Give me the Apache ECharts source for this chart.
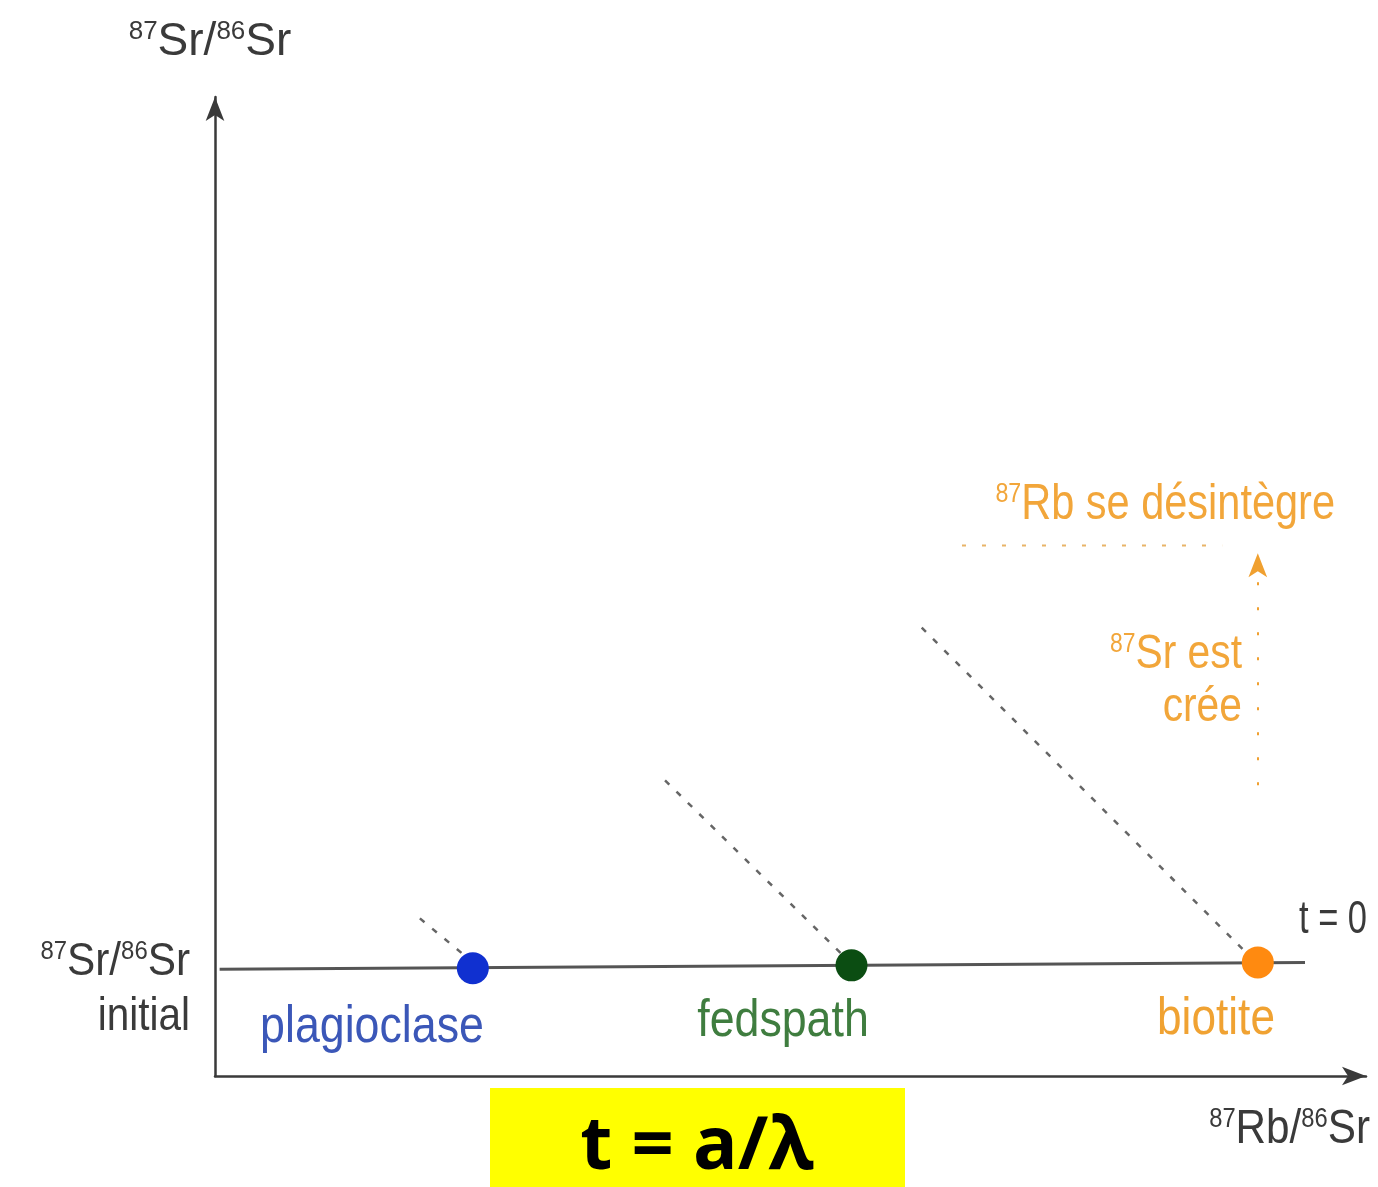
<!DOCTYPE html>
<html><head><meta charset="utf-8">
<script src="https://cdn.jsdelivr.net/npm/echarts@6/dist/echarts.min.js"></script>
<style>html,body{margin:0;padding:0;background:#fff}#c{width:1378px;height:1187px}</style>
</head><body><div id="c"></div>
<script>
// Minerals on the t = 0 line (x = 87Rb/86Sr, y = 87Sr/86Sr), schematic units
const minerals = ['plagioclase', 'fedspath', 'biotite'];
const mineralX = [22.4, 55.3, 90.6];
const mineralY = [11.0, 11.3, 11.6];
const mineralColors = ['#1030d0', '#0b4d12', '#ff8a10'];
// t = 0 line ends
const isoLine = [[0.4, 10.9], [94.7, 11.6]];
// dotted evolution paths [start, end]
const paths = [
  [[17.8, 16.1], [21.8, 12.2]],
  [[39.1, 30.2], [54.5, 12.4]],
  [[61.4, 45.8], [89.5, 12.7]]
];
// orange decay guide
const decayLevel = [[64.9, 54.2], [87.5, 54.2]];
const decayArrow = [[90.6, 29.7], [90.6, 53.4]];

const chart = echarts.init(document.getElementById('c'));
const axisCol = '#3a3a3a';
const FF = 'Liberation Sans, Arial, sans-serif';

function txt(x, y, text, o) {
  o = o || {};
  const fs = o.fs || 46;
  return {
    type: 'text', x: x, y: y, scaleX: o.sx || 1, z: 10,
    style: {
      text: text, fill: o.color || axisCol, font: (o.weight || 'normal') + ' ' + fs + 'px ' + (o.family || FF),
      textAlign: o.align || 'center', textVerticalAlign: 'middle',
      rich: {
        n: {fontSize: fs, lineHeight: fs, fill: o.color || axisCol, fontFamily: o.family || FF},
        s: {fontSize: Math.round(fs * 0.56), lineHeight: Math.round(fs * 0.56), verticalAlign: 'top', fill: o.color || axisCol, fontFamily: o.family || FF}
      }
    }
  };
}

const series = [];
series.push({
  type: 'line', data: isoLine, symbol: 'none', silent: true,
  lineStyle: {color: '#555', width: 3}, z: 2
});
paths.forEach(p => series.push({
  type: 'line', data: p, symbol: 'none', silent: true,
  lineStyle: {color: '#666', width: 2.5, type: [6, 10]}, z: 1
}));
series.push({
  type: 'line', data: decayLevel, symbol: 'none', silent: true,
  lineStyle: {color: '#e8b468', width: 2, type: [4, 16]}, z: 1,
  markLine: {
    silent: true, symbol: ['none', 'arrow'], symbolSize: [14, 24], label: {show: false},
    lineStyle: {color: '#f0a030', width: 2, type: [3, 22]},
    data: [[{coord: decayArrow[0]}, {coord: decayArrow[1]}]]
  }
});
series.push({
  type: 'scatter', symbolSize: 32, z: 5, silent: true,
  data: minerals.map((m, i) => ({name: m, value: [mineralX[i], mineralY[i]], itemStyle: {color: mineralColors[i], opacity: 1}}))
});

const ax = {
  type: 'value', min: 0, max: 100,
  axisLine: {show: true, symbol: ['none', 'arrow'], symbolSize: [14, 24], lineStyle: {color: axisCol, width: 2.5}},
  axisTick: {show: false}, axisLabel: {show: false}, splitLine: {show: false}
};

chart.setOption({
  animation: false,
  grid: {left: 215, top: 97, right: 12, bottom: 111},
  xAxis: Object.assign({}, ax),
  yAxis: Object.assign({}, ax),
  series: series,
  graphic: [
    txt(210, 42, '{s|87}{n|Sr/}{s|86}{n|Sr}', {fs: 46}),
    txt(190, 962, '{s|87}{n|Sr/}{s|86}{n|Sr}', {fs: 46, align: 'right', sx: 0.92}),
    txt(190, 1017, 'initial', {fs: 46, align: 'right', sx: 0.88}),
    txt(372, 1028, 'plagioclase', {fs: 52, color: '#3b57b8', sx: 0.86}),
    txt(783, 1022, 'fedspath', {fs: 52, color: '#3f7d3f', sx: 0.86}),
    txt(1216, 1020, 'biotite', {fs: 52, color: '#f0a232', sx: 0.85}),
    txt(1333, 920, 't = 0', {fs: 46, sx: 0.75}),
    txt(1335, 505, '{s|87}{n|Rb se désintègre}', {fs: 50, color: '#f2a63a', align: 'right', sx: 0.83}),
    txt(1242, 655, '{s|87}{n|Sr est}', {fs: 48, color: '#f2a63a', align: 'right', sx: 0.85}),
    txt(1242, 708, 'crée', {fs: 48, color: '#f2a63a', align: 'right', sx: 0.85}),
    txt(1370, 1130, '{s|87}{n|Rb/}{s|86}{n|Sr}', {fs: 48, align: 'right', sx: 0.88}),
    {type: 'rect', shape: {x: 490, y: 1088, width: 415, height: 99}, style: {fill: '#ffff00'}, z: 9},
    txt(697, 1148, 't = a/λ', {fs: 74, color: '#000', weight: 'bold', family: 'Open Sans, sans-serif'})
  ]
});
</script></body></html>
